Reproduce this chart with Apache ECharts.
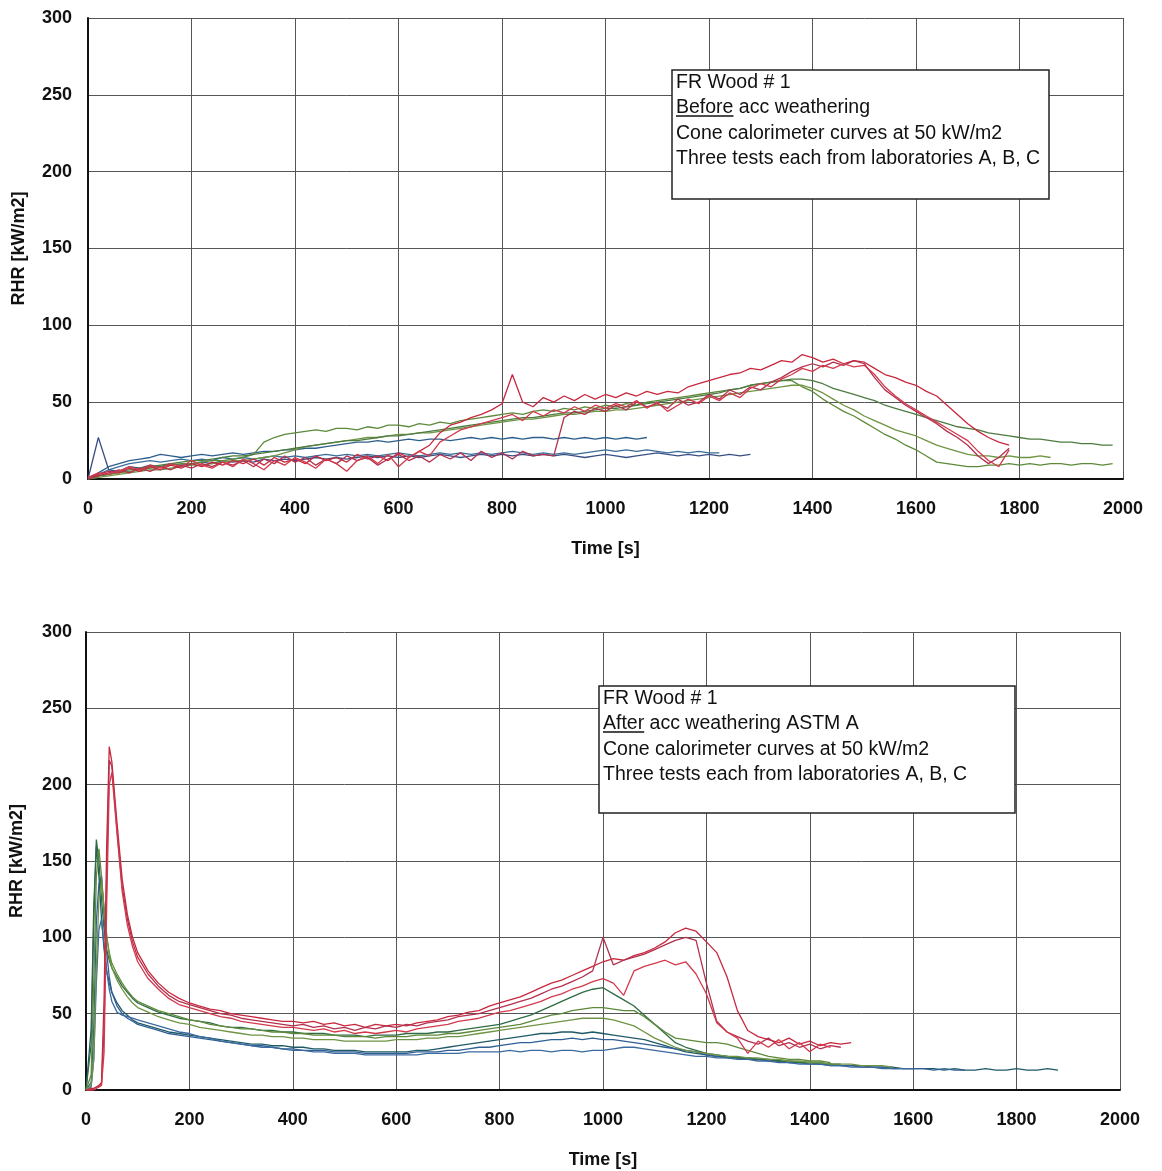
<!DOCTYPE html>
<html><head><meta charset="utf-8">
<script src="https://cdn.jsdelivr.net/npm/echarts@6/dist/echarts.min.js"></script>
<style>html,body{margin:0;padding:0;background:#fff}#c{width:1162px;height:1171px}</style>
</head><body><div id="c"></div>
<script>
// ---------- tick labels ----------
const X_TICKS = [0,200,400,600,800,1000,1200,1400,1600,1800,2000];
const Y_TICKS = [0,50,100,150,200,250,300];

// ---------- BEFORE weathering (top), values every 20 s from t = 0 ----------
const BEFORE_STEP = 20;
const beforeA1 = [0,3,5,4,7,5,8,6,9,7,10,8,11,9,12,10,13,9,14,11,13,10,15,12,14,11,16,13,15,12,17,14,18,22,30,35,37,40,42,45,49,68,50,47,53,50,54,51,55,52,55,53,56,54,57,55,57,56,60,62,64,66,68,69,72,71,74,77,76,81,79,76,78,75,77,76,72,68,66,63,61,57,54,48,42,36,31,27,24,22];
const beforeA2 = [0,2,4,6,4,7,5,8,6,9,7,10,8,11,9,12,8,13,10,15,11,14,9,13,10,15,12,14,9,13,16,12,15,11,16,13,17,12,18,14,17,13,18,15,16,15,40,44,42,46,44,48,45,50,47,49,46,52,48,50,55,52,58,55,60,58,63,66,70,73,75,73,76,74,77,75,66,58,53,48,44,40,36,31,27,22,15,10,14,20];
const beforeA3 = [1,4,3,5,8,6,9,7,10,8,12,9,7,11,8,13,10,6,12,9,14,11,7,13,10,5,12,15,10,16,8,14,18,15,24,28,32,34,36,38,40,42,38,44,41,45,43,47,44,48,46,49,47,51,46,50,44,48,52,49,54,51,56,53,59,62,60,65,68,72,70,74,72,75,73,74,68,60,54,49,45,41,37,33,29,25,18,12,8,19];
const beforeB1 = [0,2,3,4,5,6,7,8,9,10,10,11,12,12,13,14,16,24,27,29,30,31,32,31,33,33,32,34,33,35,35,34,36,35,37,36,38,39,40,41,42,43,42,44,45,44,46,45,47,46,48,47,49,48,50,51,52,53,54,55,56,57,58,59,61,62,63,64,64,60,57,52,48,44,41,37,33,29,26,22,19,15,11,10,9,8,8,9,9,10,9,10,9,10,10,9,10,10,9,10];
const beforeB2 = [0,1,2,3,4,5,6,6,7,8,9,9,10,11,12,12,13,14,15,17,19,21,22,23,24,25,26,27,27,28,29,29,30,30,31,32,33,34,35,36,37,38,39,39,40,41,42,42,43,44,44,45,45,46,47,48,49,50,51,52,53,54,55,56,57,58,59,60,61,61,59,56,52,48,45,41,38,35,32,30,28,25,22,20,18,16,15,15,14,15,14,14,15,14];
const beforeB3 = [0,2,3,5,6,7,8,9,10,11,12,12,13,14,15,15,16,17,18,19,20,21,22,23,24,25,25,26,27,28,28,29,30,31,32,33,34,35,36,37,38,39,40,40,41,42,43,43,44,45,46,46,47,48,49,50,51,52,53,54,55,56,58,59,61,62,63,64,65,65,64,62,59,57,55,53,51,48,46,44,42,40,38,36,34,33,32,30,29,28,27,26,26,25,24,24,23,23,22,22];
const beforeC1 = [0,4,8,10,12,13,14,16,15,14,15,16,15,16,17,16,17,18,18,19,19,20,20,21,22,23,24,24,25,24,25,26,25,26,26,25,26,27,26,27,26,27,26,27,27,26,27,26,27,26,27,26,27,26,27];
const beforeC2 = [0,3,6,8,10,11,12,11,12,13,12,13,12,14,13,14,13,14,15,14,15,14,15,16,15,16,15,16,15,16,17,16,15,16,17,16,17,16,17,16,17,18,17,16,17,16,17,16,17,18,19,18,19,18,19,18,17,18,17,18,17,17];
const beforeC3 = [0,27,6,5,8,7,9,8,10,9,10,11,10,12,11,12,11,13,12,13,12,13,14,13,14,13,14,15,14,15,14,15,14,15,16,15,14,15,16,15,16,15,16,15,16,15,16,15,14,15,16,15,14,15,16,17,16,15,16,15,16,15,16,15,16];

// ---------- AFTER weathering (bottom): head times, then values every 20 s from 120 s ----------
const AFTER_HEAD_T = [0,10,15,20,25,30,35,40,45,50,60,70,80,90,100];
const AFTER_TAIL_START = 120, AFTER_STEP = 20;
const afterA1Head = [0,1,1,2,3,5,60,160,225,215,175,138,115,100,90];
const afterA1 = [78,70,64,60,57,55,53,52,50,49,48,47,46,45,45,44,45,43,44,42,43,41,43,42,43,42,44,45,46,48,49,51,52,55,57,59,61,64,67,70,72,75,78,81,84,86,85,88,90,93,97,103,106,104,97,90,74,52,39,35,33,31,34,30,32,29,31,30,31];
const afterA2Head = [0,0,1,2,2,4,40,140,216,212,170,133,112,97,87];
const afterA2 = [76,68,62,58,56,54,52,50,49,47,46,45,44,43,42,43,41,42,40,41,39,41,40,42,41,43,42,44,45,46,48,49,50,52,54,56,58,60,63,66,68,71,74,78,100,82,85,87,89,92,95,98,100,98,70,45,38,35,32,30,34,29,31,28,30,27,29,28];
const afterA3Head = [0,0,0,1,2,3,25,120,200,208,168,130,108,94,84];
const afterA3 = [73,66,60,56,54,52,50,48,47,45,44,43,42,41,41,40,39,40,38,39,37,38,37,38,39,38,40,41,42,43,45,46,47,49,51,52,54,56,58,61,63,66,68,71,73,70,62,78,81,83,85,82,84,76,63,44,38,34,24,32,28,33,27,31,25,30,28];
const afterB1Head = [0,30,110,164,150,125,105,92,85,80,74,68,64,60,57];
const afterB1 = [54,51,49,47,46,45,44,42,41,41,40,39,39,38,38,37,37,37,36,36,36,35,36,36,36,37,37,37,38,38,39,40,41,42,43,45,47,49,52,55,58,61,64,66,67,63,59,55,49,43,37,31,28,26,24,23,22,21,21,20,20,19,19,18,18,18,17,17];
const afterB2Head = [0,10,70,140,158,140,118,100,90,83,76,70,65,61,58];
const afterB2 = [55,52,50,48,46,45,43,42,41,40,40,39,38,38,37,37,36,36,36,35,35,35,34,35,35,35,36,36,36,37,37,38,39,40,41,42,43,45,47,49,50,52,53,54,54,53,52,52,48,43,38,34,33,32,31,31,30,28,26,24,22,21,20,20,19,19,18];
const afterB3Head = [0,3,20,80,125,136,120,102,88,80,72,66,61,57,54];
const afterB3 = [51,48,46,44,43,41,40,39,38,37,36,36,35,35,34,34,33,33,33,32,32,32,32,32,33,33,33,34,34,35,35,36,37,38,39,40,41,42,43,44,45,46,47,47,47,46,44,42,38,34,31,28,26,25,24,23,22,22,21,21,20,20,19,19,18,18,17,17,17,16,16,16,15];
const afterC1Head = [0,40,120,160,140,112,92,78,70,64,57,52,49,46,44];
const afterC1 = [42,40,38,37,36,35,34,33,32,31,30,30,29,29,28,28,27,27,26,26,26,25,25,25,25,25,26,26,27,28,29,30,31,32,33,34,35,36,37,37,38,38,37,38,37,36,35,34,33,31,29,27,25,24,23,22,22,21,21,20,20,19,18,18,18,17,17,16,16,16,15,15,15,14,14,14,14,13,14,13,13,14,13,13,14,13,13,14,13];
const afterC2Head = [0,5,40,110,135,140,115,90,74,64,55,50,47,45,43];
const afterC2 = [41,39,37,36,35,34,33,32,31,30,29,29,28,27,27,26,26,26,25,25,25,24,24,24,24,24,25,25,25,26,26,27,28,28,29,30,31,31,32,33,33,34,33,34,33,33,32,31,30,29,28,27,26,25,23,22,21,21,20,20,19,19,18,18,17,17,16,16,16,15,15,15,14,14,14,14,13,14,13,13];
const afterC3Head = [0,2,20,70,105,112,95,78,66,58,51,49,48,47,46];
const afterC3 = [44,42,40,38,37,35,34,32,31,30,29,28,28,27,26,26,25,25,24,24,24,23,23,23,23,23,23,24,24,24,24,25,25,25,25,26,25,26,26,25,26,26,25,26,26,27,28,28,27,26,25,24,23,22,22,21,21,20,20,19,19,18,18,17,17,17,16,16,15,15,15,14,14,14,14];

// ---------- build [t, v] pairs ----------
function stepPairs(vals, start, step){ return vals.map((v,i)=>[start+i*step, v]); }
function afterPairs(head, tail){
  return head.map((v,i)=>[AFTER_HEAD_T[i], v]).concat(stepPairs(tail, AFTER_TAIL_START, AFTER_STEP));
}
const RED = ['#c8283e','#b3304e','#d23a4c'];
const GRN = ['#5d8a3a','#6f9444','#4d7c40'];
const BLU = ['#2c5f8c','#3a6d98','#3a4f86'];
const BLU2 = ['#1f5a66','#2f5f94','#3a6aa0'];
const GRN2 = ['#2f6b44','#5d8a3a','#6f9444'];

const topSets = [
  [beforeC1,BLU[0]],[beforeC2,BLU[1]],[beforeC3,BLU[2]],
  [beforeB1,GRN[0]],[beforeB2,GRN[1]],[beforeB3,GRN[2]],
  [beforeA1,RED[0]],[beforeA2,RED[1]],[beforeA3,RED[2]]
];
const botSets = [
  [afterPairs(afterC1Head,afterC1),BLU2[0]],[afterPairs(afterC2Head,afterC2),BLU2[1]],[afterPairs(afterC3Head,afterC3),BLU2[2]],
  [afterPairs(afterB1Head,afterB1),GRN2[0]],[afterPairs(afterB2Head,afterB2),GRN2[1]],[afterPairs(afterB3Head,afterB3),GRN2[2]],
  [afterPairs(afterA1Head,afterA1),RED[0]],[afterPairs(afterA2Head,afterA2),RED[1]],[afterPairs(afterA3Head,afterA3),RED[2]]
];

const series = [];
topSets.forEach(([vals,c])=>series.push({type:'line',xAxisIndex:0,yAxisIndex:0,showSymbol:false,silent:true,
  data:stepPairs(vals,0,BEFORE_STEP),lineStyle:{color:c,width:1.3},itemStyle:{color:c}}));
botSets.forEach(([pairs,c])=>series.push({type:'line',xAxisIndex:1,yAxisIndex:1,showSymbol:false,silent:true,
  data:pairs,lineStyle:{color:c,width:1.3},itemStyle:{color:c}}));

const FONT = '"Liberation Sans", Arial, sans-serif';
const plain = v => String(v);
function xAx(i){return {gridIndex:i,type:'value',min:X_TICKS[0],max:X_TICKS[X_TICKS.length-1],interval:X_TICKS[1]-X_TICKS[0],
  name:'Time [s]',nameLocation:'middle',nameGap:61,nameTextStyle:{fontFamily:FONT,fontWeight:'bold',fontSize:18,color:'#111'},
  axisLine:{show:true,onZero:false,lineStyle:{color:'#111',width:2}},axisTick:{show:false},
  axisLabel:{margin:21,fontFamily:FONT,fontWeight:'bold',fontSize:18,color:'#111',formatter:plain},
  splitLine:{show:true,lineStyle:{color:'#555',width:1}}};}
function yAx(i){return {gridIndex:i,type:'value',min:Y_TICKS[0],max:Y_TICKS[Y_TICKS.length-1],interval:Y_TICKS[1]-Y_TICKS[0],
  name:'RHR [kW/m2]',nameLocation:'middle',nameGap:60,nameRotate:90,nameTextStyle:{fontFamily:FONT,fontWeight:'bold',fontSize:18,color:'#111'},
  axisLine:{show:true,onZero:false,lineStyle:{color:'#111',width:2}},axisTick:{show:false},
  axisLabel:{margin:i===0?16:14,fontFamily:FONT,fontWeight:'bold',fontSize:18,color:'#111',formatter:plain},
  splitLine:{show:true,lineStyle:{color:'#555',width:1}}};}

const ANN_FONT = '19.5px ' + FONT;
const ctx = document.createElement('canvas').getContext('2d'); ctx.font = ANN_FONT;
function box(x,y,w,h,lines,ulWord){
  const ch=[{type:'rect',z:100,shape:{x:x,y:y,width:w,height:h},style:{fill:'#ffffff',stroke:'#222',lineWidth:1.5}}];
  const ys=[13,38,64,89];
  lines.forEach((t,i)=>ch.push({type:'text',z:101,style:{text:t,x:x+4,y:y+ys[i],font:ANN_FONT,fill:'#111',verticalAlign:'middle'}}));
  const uw=ctx.measureText(ulWord).width;
  ch.push({type:'line',z:101,shape:{x1:x+4,y1:y+ys[1]+8,x2:x+4+uw,y2:y+ys[1]+8},style:{stroke:'#111',lineWidth:1.3}});
  return ch;
}

const chart = echarts.init(document.getElementById('c'),null,{renderer:'canvas'});
chart.setOption({
  animation:false,backgroundColor:'#fff',
  grid:[{left:88,top:18,width:1035,height:461},{left:83,top:632,width:1037,height:458}],
  xAxis:[xAx(0),xAx(1)],yAxis:[yAx(0),yAx(1)],
  series:series,
  graphic:{elements:[].concat(
    box(672,70,377,129,['FR Wood # 1','Before acc weathering','Cone calorimeter curves at 50 kW/m2','Three tests each from laboratories A, B, C'],'Before'),
    box(599,686,416,127,['FR Wood # 1','After acc weathering ASTM A','Cone calorimeter curves at 50 kW/m2','Three tests each from laboratories A, B, C'],'After')
  )}
});
</script></body></html>
